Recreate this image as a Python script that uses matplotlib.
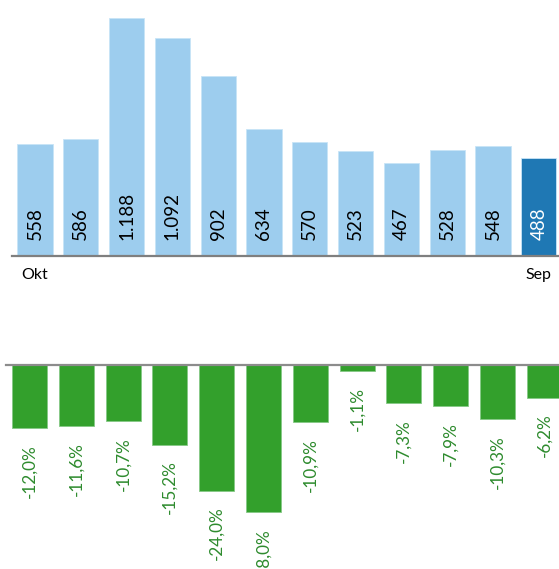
import matplotlib.pyplot as plt

plt.rcParams['font.family'] = ['Lato', 'DejaVu Sans']

# Monatswerte Okt .. Sep
counts = [558, 586, 1188, 1092, 902, 634, 570, 523, 467, 528, 548, 488]
count_labels = ['558', '586', '1.188', '1.092', '902', '634', '570', '523',
                '467', '528', '548', '488']
changes = [-12.0, -11.6, -10.7, -15.2, -24.0, -28.0, -10.9, -1.1, -7.3,
           -7.9, -10.3, -6.2]
first_month = 'Okt'
last_month = 'Sep'

W, H = 559, 569
fig = plt.figure(figsize=(W / 100, H / 100), dpi=100)

# ---- oberes Diagramm (Anzahl)
ax1 = fig.add_axes([0, (H - 256) / H, 1, 256 / H])
ax1.set_xlim(-35 / 45.8, (W - 35) / 45.8)
ax1.set_ylim(0, 256 / 0.2)
ax1.axis('off')

cols = ['#9dcdee'] * (len(counts) - 1) + ['#1f78b4']
x = list(range(len(counts)))
ax1.bar(x, counts, width=0.765, color=cols, edgecolor='#c8e4f7', linewidth=0.6)
ax1.axhline(0, xmin=12 / W, xmax=1, color='#7f7f7f', lw=1.6, clip_on=False)

for i, lab in enumerate(count_labels):
    c = 'white' if i == len(counts) - 1 else 'black'
    ax1.text(i, 80, lab, rotation=90, ha='center', va='bottom',
             fontsize=13.5, color=c)

ax1.text(0, -95, first_month, ha='center', va='center', fontsize=11.5,
         clip_on=False)
ax1.text(len(counts) - 1, -95, last_month, ha='center', va='center',
         fontsize=11.5, clip_on=False)

# ---- unteres Diagramm (Veränderung in %)
ax2 = fig.add_axes([0, 0, 1, (H - 365) / H])
ax2.set_xlim(-29.5 / 46.8, (W - 29.5) / 46.8)
ax2.set_ylim(-(H - 365) / 5.25, 0)
ax2.axis('off')

ax2.bar(x, changes, width=0.75, color='#33a02c', edgecolor='#86c986',
        linewidth=0.6)
ax2.axhline(0, xmin=6 / W, xmax=1, color='#8c8c8c', lw=1.6, clip_on=False)

for i, v in enumerate(changes):
    ax2.text(i, v - 3.0, f'{v:.1f}%'.replace('.', ','), rotation=90,
             ha='center', va='top', fontsize=12.3, color='#2e8b2e')

fig.savefig('out.png', dpi=100)
